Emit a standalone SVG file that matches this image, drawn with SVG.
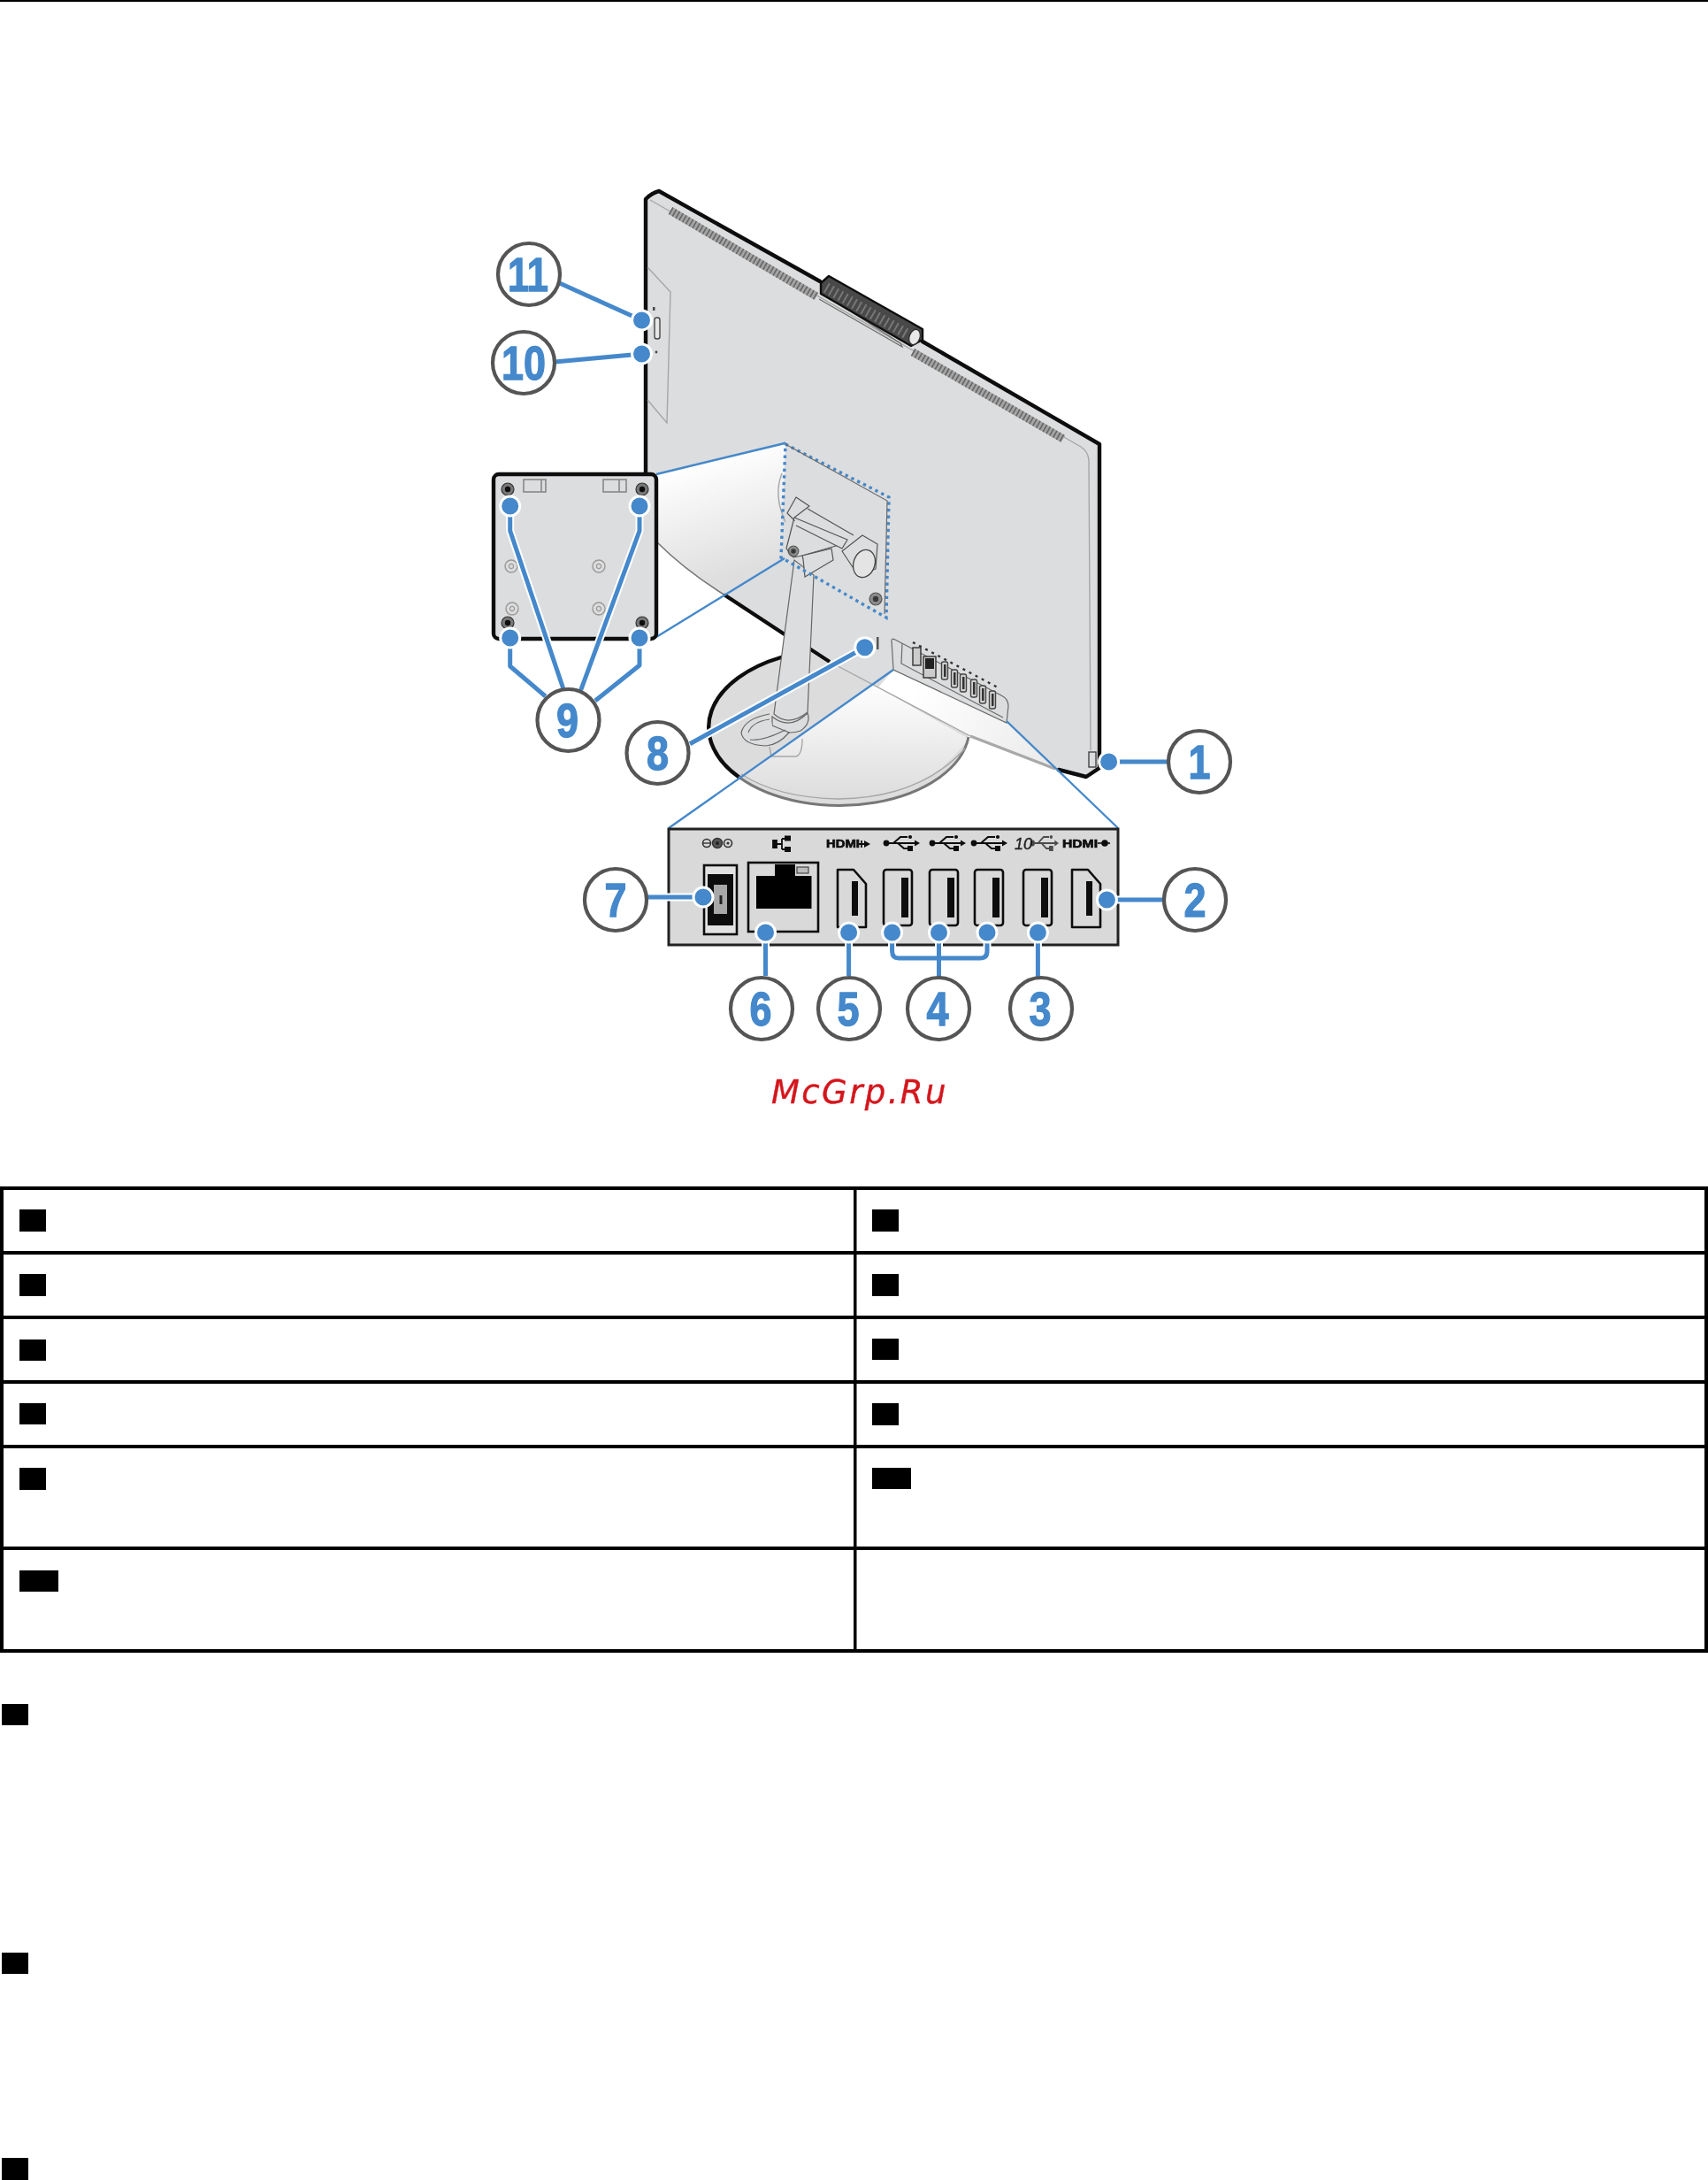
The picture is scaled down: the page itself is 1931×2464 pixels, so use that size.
<svg xmlns="http://www.w3.org/2000/svg" xmlns:xlink="http://www.w3.org/1999/xlink" width="1931" height="2464" viewBox="0 0 1931 2464">
<style>
.thin{fill:none;stroke:#6a6a6a;stroke-width:1.2}
.faint{fill:none;stroke:#a6a6a6;stroke-width:1.4}
.edge{fill:none;stroke:#111;stroke-width:4.4;stroke-linecap:round;stroke-linejoin:round}
.zoom{fill:none;stroke:#4488cb;stroke-width:2.4}
.dots{fill:none;stroke:#4488cb;stroke-width:3.4;stroke-dasharray:3.4 4.2}
.lead{fill:none;stroke:#4488cb;stroke-width:5;stroke-linejoin:round}
.halo{fill:none;stroke:#fff;stroke-width:9;stroke-linejoin:round}
.dot{fill:#4488cb;stroke:#fff;stroke-width:3}
.ring{fill:#fff;stroke:#555;stroke-width:4.2}
.num{font-family:"Liberation Sans",Arial,sans-serif;font-weight:700;font-size:53px;fill:#4488cb;stroke:#4488cb;stroke-width:1.3;text-anchor:middle}
.cell{fill:#000}
.port{fill:none;stroke:#111;stroke-width:2.6;stroke-linejoin:round}
.mini{fill:#d0d0d0;stroke:#444;stroke-width:1.4}
.lab{font-family:"Liberation Sans",Arial,sans-serif;font-weight:700;font-size:13px;fill:#111;stroke:#111;stroke-width:.7}
</style>
<defs>
<filter id="soft" filterUnits="userSpaceOnUse" x="0" y="0" width="1931" height="1300"><feGaussianBlur stdDeviation="0.65"/></filter>
<linearGradient id="coneA" gradientUnits="userSpaceOnUse" x1="760" y1="530" x2="800" y2="660"><stop offset="0" stop-color="#fff"/><stop offset="1" stop-color="#dedede"/></linearGradient>
<linearGradient id="coneB" gradientUnits="userSpaceOnUse" x1="980" y1="770" x2="980" y2="905"><stop offset="0" stop-color="#fff"/><stop offset="1" stop-color="#dcdcdc"/></linearGradient>
<linearGradient id="coneC" gradientUnits="userSpaceOnUse" x1="1040" y1="770" x2="1170" y2="870"><stop offset="0" stop-color="#fff"/><stop offset="1" stop-color="#ececec"/></linearGradient>
<g id="usb">
<circle cx="3" cy="0" r="3.4" fill="#111"/>
<path d="M3 0H36M11 0L19 -7H27M16 0L23 6H29" fill="none" stroke="#111" stroke-width="2.1"/>
<circle cx="30" cy="-7" r="2.1" fill="#111"/><rect x="27" y="3" width="6" height="6" fill="#111"/>
<path d="M35 -3.4L41 0L35 3.4Z" fill="#111"/>
</g>
<g id="usbport"><rect x="0" y="0" width="32" height="63" rx="3" fill="none" stroke="#111" stroke-width="2.6"/><rect x="20" y="9" width="8" height="45" fill="#111"/></g>
<path id="hdmi" d="M32 65H0V0H18L32 16V49Z"/>
<g id="miniport"><rect x="-3.5" y="-10" width="7" height="20" rx="2" class="mini"/><rect x="-1" y="-7" width="2.5" height="14" fill="#333"/></g>
<g id="screwD"><circle r="7" fill="#777" stroke="#333" stroke-width="1.2"/><circle r="3.2" fill="#111"/></g>
<g id="screwL"><circle r="7" fill="#dcdcdc" stroke="#999" stroke-width="1.4"/><circle r="2.6" fill="none" stroke="#999" stroke-width="1.2"/></g>
<path id="lead9" d="M576.7 572V600L636.7 778M723 572V600L656.7 780M576.7 721V753L616.7 787M723 721V752L673 792"/>
<path id="leadBracket" d="M1008.6 1054V1075Q1008.6 1083 1016 1083H1108Q1116 1083 1116 1075V1054M1061.5 1054V1104"/>
</defs>

<rect width="1931" height="2464" fill="#fff"/>
<rect id="page-rule" x="0" y="0" width="1931" height="2" fill="#000"/>

<g id="illustration" filter="url(#soft)">
<g id="base">
<ellipse cx="948.5" cy="822" rx="147" ry="88" fill="#dcdcdc"/>
<path d="M1010 757L840 877Q890 908 948 910Q1040 908 1095 835L993 777Z" fill="url(#coneB)"/>
<path d="M883 743A147 88 0 0 0 835 878" class="edge"/>
<path d="M835 878A147 88 0 0 0 1095 833" fill="none" stroke="#777" stroke-width="3"/>
<path d="M838 875Q880 902 948 903Q1040 902 1091 846" class="faint"/>
</g>
<g id="monitor">
<path d="M730 225Q737 218 745 216L1243 502V868L1228 878L1197 870L1097 832L938 748L887 717L820 673Q775 645 743 613L730 600Z" fill="#dcddde"/>
<path d="M742 537L888 502L883 630L820 673Q775 645 743 613Z" fill="url(#coneA)"/>
<path d="M1010 757L1138 817L1193 870L1097 832L993 777Z" fill="url(#coneC)"/>
<path d="M743 613Q775 645 820 673" fill="none" stroke="#777" stroke-width="1.6"/>
<path d="M820 673L887 717" class="edge"/>
<path d="M915 733L938 748" stroke="#111" stroke-width="4" fill="none"/>
<path d="M938 748L1097 832" class="faint"/>
<path d="M1097 832L1193 869" fill="none" stroke="#a8a8a8" stroke-width="3"/>
<path d="M730 540V225Q737 218 745 216L927 318M1043 386L1243 502V868L1228 878L1197 870" class="edge"/>
<path d="M735 226L1222 505Q1230 510 1231 520L1233 848" class="faint"/>
<path d="M758 238L923 335M1032 398L1202 496" fill="none" stroke="#a4a4a4" stroke-width="9"/>
<path d="M758 238L923 335M1032 398L1202 496" fill="none" stroke="#666" stroke-width="9" stroke-dasharray="1.6 2.8"/>
<path d="M732 302L758 330L754 478L732 452" class="faint"/>
<rect x="740" y="359" width="6" height="24" rx="2.5" fill="#e6e6e6" stroke="#444" stroke-width="1.4"/>
<circle cx="742" cy="398" r="1.4" fill="#444"/>
<rect x="738" y="347" width="2.5" height="4" fill="#444"/>
<path d="M935 335L1018 388L1020 392L926 338" class="thin"/>
<path d="M928 320L937 312L1043 372L1043 384L1030 391L928 332Z" fill="#4a4a4a" stroke="#111" stroke-width="2.4" stroke-linejoin="round"/>
<path d="M934 325L1026 378" fill="none" stroke="#777" stroke-width="12" stroke-dasharray="2 4"/>
<ellipse cx="1034" cy="381" rx="6" ry="9" transform="rotate(20 1034 381)" fill="#e8e8e8" stroke="#333" stroke-width="1.4"/>
</g>
<g id="stand">
<path d="M898 633L875 807Q892 822 913 805L920 650Z" fill="#dcddde" stroke="#666" stroke-width="1.2"/>
<path d="M873 810Q893 826 913 806Q917 818 905 826Q888 832 873 820Z" fill="#dcddde" stroke="#666" stroke-width="1.2"/>
<path d="M870 807Q842 812 838 828Q840 842 866 843Q880 842 892 828L873 820" fill="#dcddde" stroke="#666" stroke-width="1.2"/>
<path d="M846 828Q850 816 870 813M848 836Q862 838 888 825" class="thin"/>
<path d="M870 844L872 855H900Q907 853 907 835" class="faint"/>
<path d="M884 535Q874 560 888 590" class="faint"/>
<path d="M890 580L900 562L915 572L898 585L889 620L897 630L907 628L952 615L898 588Z" fill="#dcddde" stroke="#555" stroke-width="1.2" stroke-linejoin="round"/>
<path d="M898 585L958 610L952 620L900 594M913 575L965 605" fill="#dcddde" stroke="#555" stroke-width="1.2"/>
<path d="M907 628L940 620L942 633L910 652L908 632Z" fill="#dcddde" stroke="#555" stroke-width="1.2"/>
<path d="M952 623L975 605L992 615L990 643L970 650Z" fill="#dcddde" stroke="#555" stroke-width="1.2" stroke-linejoin="round"/>
<ellipse cx="977" cy="637" rx="12" ry="16" transform="rotate(18 977 637)" fill="#e4e4e4" stroke="#444" stroke-width="1.3"/>
<g opacity=".8">
<use xlink:href="#screwD" href="#screwD" transform="translate(990 677)"/>
<use xlink:href="#screwD" href="#screwD" transform="translate(897 623) scale(.85)"/>
</g>
</g>
<g id="ports-on-monitor">
<rect x="991" y="720" width="2.5" height="14" fill="#555"/>
<path d="M1010 757L1008 724Q1008 721 1012 723L1132 786Q1140 790 1140 798L1138 817Z" class="thin"/>
<path d="M1020 727L1019 750L1134 811" class="thin"/>
<path d="M1032 726L1128 777" stroke="#333" stroke-width="2.4" stroke-dasharray="3 5" fill="none"/>
<rect x="1032" y="732" width="9" height="20" fill="#ccc" stroke="#333" stroke-width="1.4"/>
<rect x="1044" y="742" width="14" height="24" fill="#ccc" stroke="#333" stroke-width="1.4"/><rect x="1046" y="744" width="10" height="12" fill="#222"/>
<use xlink:href="#miniport" href="#miniport" transform="translate(1068 758)"/>
<use xlink:href="#miniport" href="#miniport" transform="translate(1079 767)"/>
<use xlink:href="#miniport" href="#miniport" transform="translate(1089 772)"/>
<use xlink:href="#miniport" href="#miniport" transform="translate(1101 778)"/>
<use xlink:href="#miniport" href="#miniport" transform="translate(1111 785)"/>
<use xlink:href="#miniport" href="#miniport" transform="translate(1122 791)"/>
<rect x="1231" y="850" width="8" height="17" fill="#dcddde" stroke="#444" stroke-width="1.4"/>
</g>
<g id="mount-outline">
<path d="M888 502L1005 562L1002 698L883 630Z" class="dots"/>
<path d="M888 502L1003 566L1000 694" class="thin" stroke-width="1"/>
</g>
<path d="M742 536L887 501M742 720L887 631M1010 757L756 936M1138 815L1264 936" class="zoom"/>
<g id="inset-panel">
<rect x="558" y="536" width="184" height="186" rx="6" fill="#dcddde" stroke="#111" stroke-width="4.4"/>
<rect x="592" y="542" width="25" height="14" fill="none" stroke="#888" stroke-width="1.6"/><path d="M612 542V556" stroke="#888" stroke-width="1.6"/>
<rect x="682" y="542" width="26" height="14" fill="none" stroke="#888" stroke-width="1.6"/><path d="M700 542V556" stroke="#888" stroke-width="1.6"/>
<use xlink:href="#screwD" href="#screwD" transform="translate(574 553)"/>
<use xlink:href="#screwD" href="#screwD" transform="translate(726 553)"/>
<use xlink:href="#screwD" href="#screwD" transform="translate(574 704)"/>
<use xlink:href="#screwD" href="#screwD" transform="translate(726 704)"/>
<use xlink:href="#screwL" href="#screwL" transform="translate(578 640)"/>
<use xlink:href="#screwL" href="#screwL" transform="translate(677 640)"/>
<use xlink:href="#screwL" href="#screwL" transform="translate(579 688)"/>
<use xlink:href="#screwL" href="#screwL" transform="translate(677 688)"/>
</g>
<g id="port-panel">
<rect x="756" y="937" width="508" height="131" fill="#d9d9d9" stroke="#222" stroke-width="3"/>
<g id="port-labels">
<circle cx="799" cy="953" r="4.5" fill="none" stroke="#333" stroke-width="1.6"/><path d="M795 953H803" stroke="#333" stroke-width="1.4"/>
<circle cx="811" cy="953" r="5.5" fill="#555" stroke="#333" stroke-width="1.4"/><circle cx="811" cy="953" r="2" fill="#222"/>
<circle cx="823" cy="953" r="4.5" fill="none" stroke="#333" stroke-width="1.6"/><circle cx="823" cy="953" r="1.6" fill="#333"/>
<path d="M878 950V958H874V950ZM878 954H884M884 948V960M884 948H888M884 960H888" fill="#111" stroke="#111" stroke-width="1.8"/>
<rect x="887" y="944.5" width="7" height="6" fill="#111"/><rect x="887" y="957" width="7" height="6" fill="#111"/>
<text class="lab" x="934" y="958" textLength="38" lengthAdjust="spacingAndGlyphs">HDMI</text>
<path d="M971 954H981M974 950V958" stroke="#111" stroke-width="1.8"/><path d="M977 950L984 954L977 958Z" fill="#111"/>
<use xlink:href="#usb" href="#usb" transform="translate(999 953)"/>
<use xlink:href="#usb" href="#usb" transform="translate(1051 953)"/>
<use xlink:href="#usb" href="#usb" transform="translate(1098 953)"/>
<text x="1147" y="960" font-family="Liberation Sans,Arial,sans-serif" font-style="italic" font-size="18" fill="#222" stroke="#222" stroke-width=".4">10</text>
<use xlink:href="#usb" href="#usb" transform="translate(1165 953) scale(.78 1)" opacity=".7"/>
<text class="lab" x="1201" y="958" textLength="40" lengthAdjust="spacingAndGlyphs">HDMI</text>
<circle cx="1249" cy="953" r="3.8" fill="#111"/><path d="M1241 953H1255" stroke="#111" stroke-width="1.6"/>
</g>
<rect x="796" y="978" width="37" height="78" fill="#e2e2e2" stroke="#111" stroke-width="2.6"/>
<rect x="800" y="988" width="29" height="58" fill="#0a0a0a"/>
<rect x="807" y="1000" width="15" height="33" fill="#a8a8a8"/>
<rect x="813.5" y="1012" width="3" height="10" fill="#222"/>
<rect x="846" y="975" width="79" height="78" fill="#d9d9d9" stroke="#111" stroke-width="2.6"/>
<path d="M855 990H876V977H899V990H917.5V1027H855Z" fill="#050505"/>
<rect x="901" y="980" width="13" height="7" fill="#bbb" stroke="#444" stroke-width="1.2"/>
<use xlink:href="#hdmi" href="#hdmi" transform="translate(947 983)" class="port"/>
<rect x="963" y="996" width="7" height="39" fill="#0a0a0a"/>
<use xlink:href="#usbport" href="#usbport" transform="translate(999 983)"/>
<use xlink:href="#usbport" href="#usbport" transform="translate(1051 983)"/>
<use xlink:href="#usbport" href="#usbport" transform="translate(1102 983)"/>
<use xlink:href="#usbport" href="#usbport" transform="translate(1157 983)"/>
<use xlink:href="#hdmi" href="#hdmi" transform="translate(1212 983)" class="port"/>
<rect x="1228" y="996" width="7" height="39" fill="#0a0a0a"/>
</g>
<g id="connectors">
<g class="halo">
<path d="M632.6 320L725.5 362M627.5 409L725.5 400M780 840.7L977.7 731.7M1253.6 861H1320M1251.4 1017H1316M795 1014H732M865.5 1054V1103M959.6 1054V1103M1173.4 1054V1104"/>
<use xlink:href="#lead9" href="#lead9"/><use xlink:href="#leadBracket" href="#leadBracket"/>
</g>
<g class="lead">
<path d="M632.6 320L725.5 362M627.5 409L725.5 400M780 840.7L977.7 731.7M1253.6 861H1320M1251.4 1017H1316M795 1014H732M865.5 1054V1103M959.6 1054V1103M1173.4 1054V1104"/>
<use xlink:href="#lead9" href="#lead9"/><use xlink:href="#leadBracket" href="#leadBracket"/>
</g>
<g id="anchor-dots">
<circle class="dot" cx="725.5" cy="362" r="11"/><circle class="dot" cx="725.5" cy="400" r="11"/>
<circle class="dot" cx="576.7" cy="572" r="11"/><circle class="dot" cx="723" cy="572" r="11"/>
<circle class="dot" cx="576.7" cy="721" r="11"/><circle class="dot" cx="723" cy="721" r="11"/>
<circle class="dot" cx="977.7" cy="731.7" r="11"/><circle class="dot" cx="1253.6" cy="861" r="11"/>
<circle class="dot" cx="1251.4" cy="1017" r="11"/><circle class="dot" cx="795" cy="1014" r="11"/>
<circle class="dot" cx="865.5" cy="1054" r="11"/><circle class="dot" cx="959.6" cy="1054" r="11"/>
<circle class="dot" cx="1008.6" cy="1054" r="11"/><circle class="dot" cx="1061.5" cy="1054" r="11"/>
<circle class="dot" cx="1116" cy="1054" r="11"/><circle class="dot" cx="1173.4" cy="1054" r="11"/>
</g>
</g>
<g id="callout-1"><circle class="ring" cx="1356" cy="861" r="35"/><text class="num" x="1356" y="880" textLength="25" lengthAdjust="spacingAndGlyphs">1</text></g>
<g id="callout-2"><circle class="ring" cx="1351" cy="1017" r="35"/><text class="num" x="1351" y="1036" textLength="25" lengthAdjust="spacingAndGlyphs">2</text></g>
<g id="callout-3"><circle class="ring" cx="1177" cy="1140" r="35"/><text class="num" x="1176" y="1159" textLength="25" lengthAdjust="spacingAndGlyphs">3</text></g>
<g id="callout-4"><circle class="ring" cx="1061" cy="1140" r="35"/><text class="num" x="1060" y="1159" textLength="25" lengthAdjust="spacingAndGlyphs">4</text></g>
<g id="callout-5"><circle class="ring" cx="960" cy="1140" r="35"/><text class="num" x="959" y="1159" textLength="25" lengthAdjust="spacingAndGlyphs">5</text></g>
<g id="callout-6"><circle class="ring" cx="861" cy="1140" r="35"/><text class="num" x="860" y="1159" textLength="25" lengthAdjust="spacingAndGlyphs">6</text></g>
<g id="callout-7"><circle class="ring" cx="696" cy="1017" r="35"/><text class="num" x="696" y="1036" textLength="25" lengthAdjust="spacingAndGlyphs">7</text></g>
<g id="callout-8"><circle class="ring" cx="743.5" cy="851" r="35"/><text class="num" x="743.5" y="870" textLength="25" lengthAdjust="spacingAndGlyphs">8</text></g>
<g id="callout-9"><circle class="ring" cx="642.5" cy="814" r="35"/><text class="num" x="641.5" y="833" textLength="25" lengthAdjust="spacingAndGlyphs">9</text></g>
<g id="callout-10"><circle class="ring" cx="592" cy="410" r="35"/><text class="num" x="592" y="429" textLength="50" lengthAdjust="spacingAndGlyphs">10</text></g>
<g id="callout-11"><circle class="ring" cx="598" cy="310" r="35"/><text class="num" x="597" y="329" textLength="46" lengthAdjust="spacingAndGlyphs">11</text></g>
<text id="watermark" x="872" y="1247" font-family="DejaVu Sans,sans-serif" font-style="italic" font-size="37" letter-spacing="2.4" fill="#d4181f" stroke="#d4181f" stroke-width=".4">McGrp.Ru</text>
</g>

<g id="table">
<path d="M0 1341H1931V1345H0ZM0 1414H1931V1418H0ZM0 1487H1931V1491H0ZM0 1560H1931V1564H0ZM0 1633H1931V1637H0ZM0 1748H1931V1752H0ZM0 1864H1931V1868H0Z" fill="#000"/>
<rect x="0" y="1341" width="4" height="527" fill="#000"/>
<rect x="965" y="1341" width="3.5" height="527" fill="#000"/>
<rect x="1927" y="1341" width="4" height="527" fill="#000"/>
<rect class="cell" x="22" y="1367" width="30" height="25"/>
<rect class="cell" x="22" y="1440" width="30" height="25"/>
<rect class="cell" x="22" y="1514" width="30" height="24"/>
<rect class="cell" x="22" y="1586" width="30" height="24"/>
<rect class="cell" x="22" y="1659" width="30" height="25"/>
<rect class="cell" x="22" y="1775" width="44" height="24"/>
<rect class="cell" x="986" y="1367" width="30" height="25"/>
<rect class="cell" x="986" y="1440" width="30" height="25"/>
<rect class="cell" x="986" y="1513" width="30" height="24"/>
<rect class="cell" x="986" y="1586" width="30" height="25"/>
<rect class="cell" x="986" y="1659" width="44" height="24"/>
</g>
<rect class="cell" x="2" y="1926" width="30" height="24"/>
<rect class="cell" x="2" y="2207" width="30" height="24"/>
<rect class="cell" x="2" y="2439" width="30" height="25"/>
</svg>
